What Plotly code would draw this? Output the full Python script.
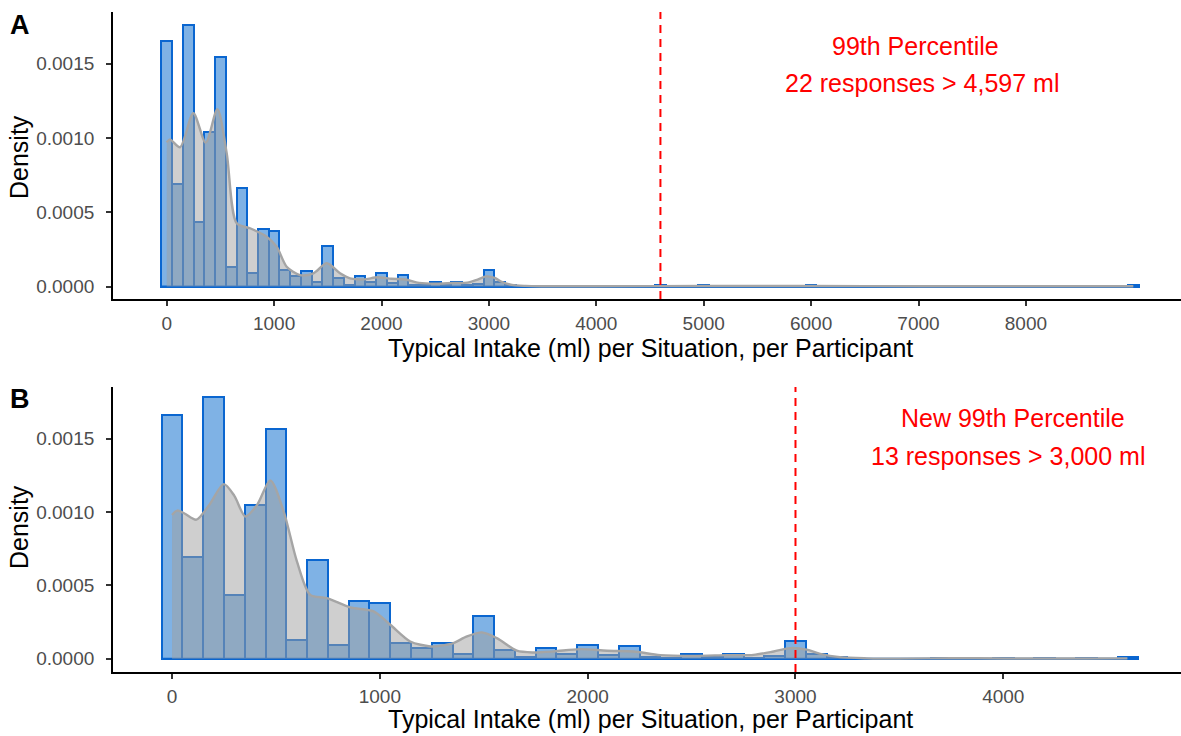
import plotly.graph_objects as go

# ---- data -------------------------------------------------------------
BIN_WIDTH = 100

# Panel A: all responses, histogram density per 100 ml bin (centres 0..9000)
bins_a = list(range(0, 9001, 100))
hist_a_head = [
    0.001650, 0.000690, 0.001760, 0.000436, 0.001040, 0.001545, 0.000128, 0.000660,
    0.000092, 0.000390, 0.000372, 0.000108, 0.000072, 0.000102, 0.000032, 0.000270,
    0.000058, 0.000010, 0.000072, 0.000032, 0.000088, 0.000026, 0.000080, 0.000013,
    0.000007, 0.000032, 0.000009, 0.000028, 0.000007, 0.000019, 0.000112, 0.000028,
    0.000010, 0.000000, 0.000000, 0.000000, 0.000000, 0.000006, 0.000006, 0.000000,
    0.000006, 0.000000, 0.000006, 0.000000, 0.000006, 0.000000, 0.000008,
]
# sparse tail above 4,600 ml
tail_a = {4900: 0.0000045, 5000: 0.000009, 5200: 0.0000045, 5900: 0.0000045,
          6000: 0.000013, 6100: 0.0000045, 6200: 0.0000045, 7100: 0.0000045,
          8200: 0.0000045, 8300: 0.0000045, 8600: 0.0000045, 8900: 0.0000045,
          9000: 0.000009}
hist_a = hist_a_head + [tail_a.get(b, 0.0) for b in bins_a[len(hist_a_head):]]

# Panel B: responses <= 4,597 ml
bins_b = list(range(0, 4601, 100))
hist_b = [
    0.001664, 0.000694, 0.001782, 0.000437, 0.001050, 0.001567, 0.000127, 0.000670,
    0.000095, 0.000396, 0.000380, 0.000111, 0.000073, 0.000107, 0.000030, 0.000289,
    0.000061, 0.000010, 0.000075, 0.000034, 0.000095, 0.000027, 0.000084, 0.000014,
    0.000007, 0.000034, 0.000009, 0.000030, 0.000007, 0.000020, 0.000118, 0.000030,
    0.000010, 0.000000, 0.000000, 0.000000, 0.000000, 0.000007, 0.000007, 0.000000,
    0.000007, 0.000000, 0.000007, 0.000000, 0.000007, 0.000000, 0.000009,
]

# Kernel density estimate, sampled along x
kde_a_x = [0, 30, 124, 248, 363, 472, 559, 652, 776, 931, 1024, 1117, 1241, 1366,
           1490, 1614, 1707, 1836, 1964, 2093, 2221, 2349, 2510, 2670, 2798, 2895,
           2975, 3055, 3119, 3214, 3343, 3500, 4000, 5000, 6000, 7000, 8000, 9000]
kde_a_y = [0.000970, 0.000990, 0.000937, 0.001166, 0.000968, 0.001193, 0.000896,
           0.000425, 0.000392, 0.000335, 0.000268, 0.000133, 0.000077, 0.000089,
           0.000156, 0.000089, 0.000055, 0.000048, 0.000062, 0.000052, 0.000047,
           0.000024, 0.000019, 0.000024, 0.000026, 0.000047, 0.000068, 0.000058,
           0.000032, 0.000011, 0.000004, 0.000002, 0.000002, 0.000003, 0.000003,
           0.000002, 0.000002, 0.000002]

kde_b_x = [0, 25, 60, 117, 180, 249, 300, 353, 410, 473, 537, 601, 665, 745, 857,
           970, 1050, 1146, 1243, 1290, 1354, 1419, 1491, 1563, 1659, 1740, 1836,
           1964, 2093, 2221, 2349, 2510, 2670, 2798, 2895, 2975, 3055, 3119, 3214,
           3343, 3500, 3750, 4000, 4200, 4400, 4597]
kde_b_y = [0.000980, 0.001010, 0.000990, 0.000948, 0.001050, 0.001190, 0.001110,
           0.000970, 0.001050, 0.001216, 0.001005, 0.000664, 0.000436, 0.000414,
           0.000350, 0.000323, 0.000232, 0.000118, 0.000084, 0.000089, 0.000107,
           0.000152, 0.000180, 0.000141, 0.000055, 0.000043, 0.000050, 0.000066,
           0.000055, 0.000050, 0.000025, 0.000020, 0.000025, 0.000027, 0.000050,
           0.000073, 0.000062, 0.000034, 0.000011, 0.000003, 0.000001, 0.000004,
           0.000002, 0.000002, 0.000002, 0.000003]

P99_A = 4597
P99_B = 3000
x_ticks_a = [0, 1000, 2000, 3000, 4000, 5000, 6000, 7000, 8000]
x_ticks_b = [0, 1000, 2000, 3000, 4000]
y_ticks = [0.0, 0.0005, 0.0010, 0.0015]

# ---- styling ----------------------------------------------------------
FONT = "Liberation Sans, Arial, Helvetica, sans-serif"
BAR_FILL = "rgba(0,102,204,0.5)"
BAR_LINE = "rgb(10,102,208)"
KDE_FILL = "rgba(160,160,160,0.5)"
KDE_LINE = "rgb(165,165,165)"

W, H = 1181, 736
ML, MR, MT, MB = 113, 0, 12, 64
PW, PH = W - ML - MR, H - MT - MB


def px(xp):
    return (xp - ML) / PW


def py(yp):
    return (H - MB - yp) / PH


fig = go.Figure()


def add_panel(xa, ya, bins, hist, kx, ky):
    fig.add_trace(go.Bar(
        x=bins, y=hist, width=BIN_WIDTH, xaxis=xa, yaxis=ya,
        marker=dict(color=BAR_FILL, line=dict(color=BAR_LINE, width=2)),
        showlegend=False, hoverinfo="skip"))
    # baseline drawn by empty bins
    fig.add_trace(go.Scatter(
        x=[bins[0] - BIN_WIDTH / 2, bins[-1] + BIN_WIDTH / 2], y=[0, 0],
        mode="lines", line=dict(color=BAR_LINE, width=2),
        xaxis=xa, yaxis=ya, showlegend=False, hoverinfo="skip"))
    fig.add_trace(go.Scatter(
        x=kx, y=ky, mode="lines", fill="tozeroy", fillcolor=KDE_FILL,
        line=dict(color=KDE_LINE, width=2.4, shape="spline", smoothing=0.8),
        xaxis=xa, yaxis=ya, showlegend=False, hoverinfo="skip"))


add_panel("x", "y", bins_a, hist_a, kde_a_x, kde_a_y)
add_panel("x2", "y2", bins_b, hist_b, kde_b_x, kde_b_y)

axis_common = dict(
    showline=True, linecolor="black", linewidth=1.8, ticks="outside", ticklen=5,
    tickwidth=1.5, tickcolor="#333333", showgrid=False, zeroline=False,
    tickfont=dict(family=FONT, size=19, color="#4D4D4D"),
)

fig.update_layout(
    width=W, height=H, paper_bgcolor="white", plot_bgcolor="white",
    margin=dict(l=ML, r=MR, t=MT, b=MB), bargap=0, barmode="overlay",
    xaxis=dict(axis_common, domain=[0, 1], anchor="y", range=[-500, 9444],
               tickvals=x_ticks_a, ticklabelstandoff=1),
    yaxis=dict(axis_common, domain=[py(299), 1], anchor="x",
               range=[-0.0000841, 0.001847], tickvals=y_ticks, tickformat=".4f",
               ticklabelstandoff=8),
    xaxis2=dict(axis_common, domain=[0, 1], anchor="y2", range=[-284, 4855],
                tickvals=x_ticks_b, ticklabelstandoff=1),
    yaxis2=dict(axis_common, domain=[0, py(387)], anchor="x2",
                range=[-0.00009, 0.001852], tickvals=y_ticks, tickformat=".4f",
                ticklabelstandoff=8),
)

for xr, yr, val in (("x", "y domain", P99_A), ("x2", "y2 domain", P99_B)):
    fig.add_shape(type="line", xref=xr, yref=yr, x0=val, x1=val, y0=0, y1=1,
                  line=dict(color="#FF0000", width=2, dash="8px,6px"))

TITLE = "Typical Intake (ml) per Situation, per Participant"
notes = [
    ("A", 20, 25, 27, "black", True, 0),
    ("B", 20, 399, 27, "black", True, 0),
    ("Density", 19, 157, 25, "black", False, -90),
    ("Density", 19, 527, 25, "black", False, -90),
    (TITLE, 650, 348, 25, "black", False, 0),
    (TITLE, 650, 719, 25, "black", False, 0),
    ("99th Percentile", 915, 46, 25, "#FF0000", False, 0),
    (f"22 responses > {P99_A:,} ml", 922, 83, 25, "#FF0000", False, 0),
    ("New 99th Percentile", 1013, 418, 25, "#FF0000", False, 0),
    (f"13 responses > {P99_B:,} ml", 1008, 456, 25, "#FF0000", False, 0),
]
for text, xp, yp, size, color, bold, angle in notes:
    fig.add_annotation(
        text=f"<b>{text}</b>" if bold else text, x=px(xp), y=py(yp),
        xref="paper", yref="paper", showarrow=False, textangle=angle,
        xanchor="center", yanchor="middle",
        font=dict(family=FONT, size=size, color=color))

fig.write_html("out.html")
